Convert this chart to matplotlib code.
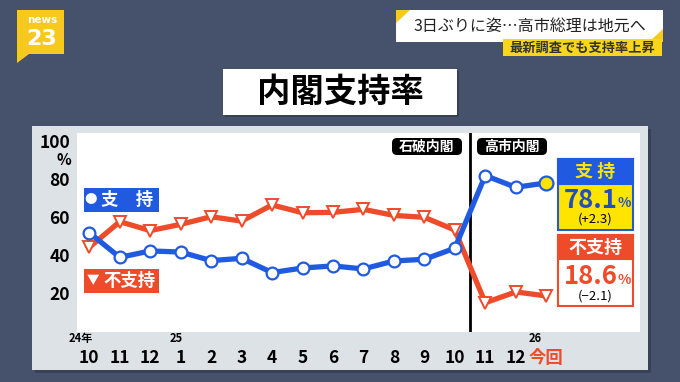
import numpy as np
import matplotlib.pyplot as plt
from matplotlib.patches import Rectangle, Polygon, FancyBboxPatch

plt.rcParams['font.family'] = ['Noto Sans CJK JP', 'DejaVu Sans']

# survey months (24/10 .. latest)
months = ['10', '11', '12', '1', '2', '3', '4', '5', '6', '7', '8', '9', '10', '11', '12', '今回']
support = [51.9, 38.9, 42.3, 41.7, 37.2, 38.4, 30.9, 33.3, 34.4, 32.8, 37.0, 37.9, 43.7, 82.0, 75.8, 78.1]
oppose = [44.2, 57.7, 53.0, 56.3, 60.3, 58.0, 66.5, 62.4, 62.6, 64.2, 61.0, 60.0, 53.3, 15.0, 20.7, 18.6]
year_idx = [0, 3, 15]
year_txt = ['24年', '25', '26']
year_shift = [-6, -3.6, -7.6]
yticks = [20, 40, 60, 80, 100]
split_at = 12.5  # Ishiba -> Takaichi

BG = '#46526b'
PANEL = '#dde2e6'
BLUE = '#1f5ae0'
RED = '#ee4b2b'
YELLOW = '#ffe400'
LOGO = '#f7c81e'

W, H = 680, 382
fig = plt.figure(figsize=(6.8, 3.82), dpi=100, facecolor=BG)

bg = fig.add_axes([0, 0, 1, 1], zorder=0)
bg.set_xlim(0, W)
bg.set_ylim(H, 0)
bg.axis('off')

top = fig.add_axes([0, 0, 1, 1], zorder=2)
top.set_xlim(0, W)
top.set_ylim(H, 0)
top.axis('off')
top.patch.set_visible(False)


def rbox(a, x0, y0, w, h, fc, r=3, **kw):
    a.add_patch(FancyBboxPatch((x0 + r, y0 + r), w - 2 * r, h - 2 * r,
                               boxstyle=f'round,pad={r},rounding_size={r}', fc=fc, ec='none', **kw))


# logo
bg.add_patch(Polygon([(17, 10), (64, 10), (64, 54), (29, 54), (17, 63)], closed=True, fc=LOGO, ec='none'))
bg.text(42, 20, 'news', color='white', fontsize=7.5, weight='bold', ha='center', va='center', family='DejaVu Sans')
bg.text(42, 39, '23', color='white', fontsize=16, weight='bold', ha='center', va='center', family='DejaVu Sans')

# headline
bg.add_patch(Rectangle((396, 10), 267, 32, fc='white', ec='none'))
bg.add_patch(Polygon([(396, 10), (410, 10), (396, 23)], fc=LOGO, ec='none'))
bg.add_patch(Polygon([(663, 29), (663, 42), (649, 42)], fc=LOGO, ec='none'))
bg.text(530, 26, '3日ぶりに姿…高市総理は地元へ', color='#222222', fontsize=11.5, ha='center', va='center')
bg.add_patch(Rectangle((503, 39), 159, 17, fc='#f9d61a', ec='none'))
bg.text(582, 47.5, '最新調査でも支持率上昇', color='#333333', fontsize=9.5, weight='bold', ha='center', va='center')

# title
bg.add_patch(Rectangle((225, 71), 234, 46, fc='#2a3142', ec='none', alpha=0.5))
bg.add_patch(Rectangle((223, 69), 234, 46, fc='white', ec='none'))
bg.text(340, 92, '内閣支持率', color='black', fontsize=24, weight='bold', ha='center', va='center')

# panel
bg.add_patch(Rectangle((35, 129), 616, 244, fc='#2c3444', ec='none', alpha=0.5))
bg.add_patch(Rectangle((32, 126), 616, 244, fc=PANEL, ec='none'))
bg.text(64, 160, '%', color='black', fontsize=11, weight='bold', ha='center', va='center')

# chart
ax = fig.add_axes([77 / W, 1 - 332 / H, 563 / W, 199 / H], zorder=1)
ax.set_facecolor('white')
x = np.arange(len(months))
ax.plot(x, oppose, color=RED, lw=3.8, marker='v', ms=9, mfc='white', mec=RED, mew=1.4, zorder=2)
ax.plot(x, support, color=BLUE, lw=3.8, marker='o', ms=8.5, mfc='white', mec=BLUE, mew=1.6, zorder=3)
ax.plot(x[-1], support[-1], marker='o', ms=10, mfc=YELLOW, mec=BLUE, mew=1.6, zorder=4)
ax.axvline(split_at, color='black', lw=2, zorder=1)

ax.set_xlim(-0.404, 18.08)
ax.set_ylim(-0.4, 104.4)
ax.set_xticks(x)
ax.set_xticklabels(months, fontsize=12.5, weight='bold')
ax.get_xticklabels()[-1].set_color(RED)
ax.set_yticks(yticks)
ax.set_yticklabels([str(v) for v in yticks], fontsize=12.5, weight='bold')
ax.tick_params(axis='both', length=0)
ax.tick_params(axis='x', pad=12)
ax.tick_params(axis='y', pad=5)
for s in ax.spines.values():
    s.set_visible(False)

for i, t, dx in zip(year_idx, year_txt, year_shift):
    ax.annotate(t, xy=(x[i], 0), xycoords=('data', 'axes fraction'), xytext=(dx, -5),
                textcoords='offset points', ha='center', va='center', fontsize=8, weight='bold')

# cabinet tags
rbox(top, 392, 138, 70, 17, 'black', r=5)
top.text(427, 146.5, '石破内閣', color='white', fontsize=10, weight='bold', ha='center', va='center')
rbox(top, 477, 138, 70, 17, 'black', r=5)
top.text(512, 146.5, '高市内閣', color='white', fontsize=10, weight='bold', ha='center', va='center')

# series tags
top.add_patch(Rectangle((84, 188), 75, 24, fc=BLUE, ec='none'))
top.text(91, 200, '●', color='white', fontsize=9, ha='center', va='center')
top.text(127.5, 200, '支　持', color='white', fontsize=12.5, weight='bold', ha='center', va='center')
top.add_patch(Rectangle((84, 269), 75, 24, fc=RED, ec='none'))
top.text(93, 281, '▼', color='white', fontsize=9, ha='center', va='center')
top.text(129, 281, '不支持', color='white', fontsize=12.5, weight='bold', ha='center', va='center')

# latest value boxes
top.add_patch(Rectangle((558, 159), 75, 71, fc=YELLOW, ec=BLUE, lw=1.5))
top.add_patch(Rectangle((558, 159), 75, 25, fc=BLUE, ec=BLUE, lw=1.5))
top.text(595.5, 171, '支 持', color=YELLOW, fontsize=13, weight='bold', ha='center', va='center')
top.text(591, 200, f'{support[-1]:.1f}', color='#1f4fc0', fontsize=18.5, weight='bold', ha='center', va='center')
top.text(624, 203, '%', color='#1f4fc0', fontsize=10, weight='bold', ha='center', va='center')
top.text(595, 219, f'(+{support[-1] - support[-2]:.1f})', color='black', fontsize=9.5, ha='center', va='center')

top.add_patch(Rectangle((558, 235), 75, 71, fc='white', ec=RED, lw=1.5))
top.add_patch(Rectangle((558, 235), 75, 24, fc=RED, ec=RED, lw=1.5))
top.text(595.5, 247, '不支持', color='white', fontsize=13, weight='bold', ha='center', va='center')
top.text(591, 277, f'{oppose[-1]:.1f}', color=RED, fontsize=18.5, weight='bold', ha='center', va='center')
top.text(624, 280, '%', color=RED, fontsize=10, weight='bold', ha='center', va='center')
top.text(595, 296, f'(\u2212{oppose[-2] - oppose[-1]:.1f})', color='black', fontsize=9.5, ha='center', va='center')

fig.savefig('out.png', dpi=100, facecolor=BG)
